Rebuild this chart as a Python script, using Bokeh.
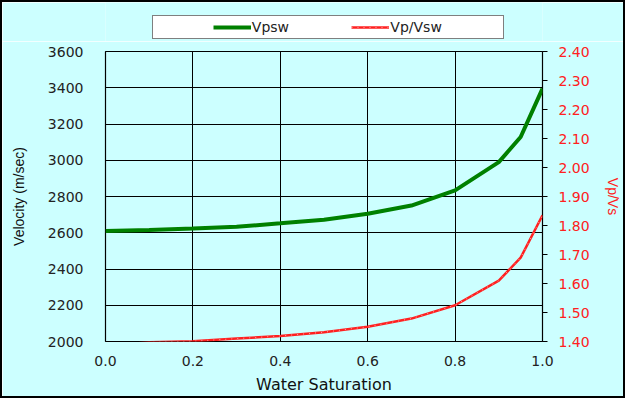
from bokeh.plotting import figure
from bokeh.layouts import column
from bokeh.models import (Range1d, LinearAxis, FixedTicker, Legend, LegendItem,
                          NumeralTickFormatter)
from bokeh.embed import file_html
from bokeh.resources import INLINE

sw = [0.0, 0.1, 0.2, 0.3, 0.4, 0.5, 0.6, 0.7, 0.8, 0.9, 0.95, 1.0]
vpsw = [2610, 2615, 2623, 2633, 2652, 2672, 2705, 2750, 2834, 2990, 3128, 3395]
vpvs = [1.385, 1.397, 1.401, 1.410, 1.419, 1.432, 1.451, 1.479, 1.525, 1.610, 1.689, 1.835]
x_ticks = [0.0, 0.2, 0.4, 0.6, 0.8, 1.0]
vel_ticks = [2000, 2200, 2400, 2600, 2800, 3000, 3200, 3400, 3600]
ratio_ticks = [1.4, 1.5, 1.6, 1.7, 1.8, 1.9, 2.0, 2.1, 2.2, 2.3, 2.4]
series_names = ["Vpsw", "Vp/Vsw"]

BG = "#ccffff"
FONT = "DejaVu Sans"
RED = "#ff2020"
GREEN = "#008000"
TXT = "#222222"

# ---------- main chart ----------
p = figure(output_backend="svg", toolbar_location=None,
           width=621, height=355,
           min_border_left=103, min_border_right=80, min_border_top=10, min_border_bottom=51,
           x_range=Range1d(0, 1), y_range=Range1d(2000, 3600))
p.background_fill_color = BG
p.border_fill_color = BG
p.outline_line_color = "black"
p.outline_line_width = 1.2

p.extra_y_ranges = {"ratio": Range1d(1.4, 2.4)}

p.xaxis.ticker = FixedTicker(ticks=x_ticks)
p.xaxis.formatter = NumeralTickFormatter(format="0.0")
p.yaxis.ticker = FixedTicker(ticks=vel_ticks)
for ax in (p.xaxis[0], p.yaxis[0]):
    ax.axis_line_color = None
    ax.major_tick_line_color = None
    ax.minor_tick_line_color = None
    ax.major_label_text_font = FONT
    ax.major_label_text_font_size = "14px"
    ax.major_label_text_color = TXT
    ax.axis_label_text_font_style = "normal"
    ax.axis_label_text_color = "#111111"
p.xaxis.axis_label = "Water Saturation"
p.xaxis.axis_label_text_font = FONT
p.xaxis.axis_label_text_font_size = "16px"
p.xaxis.major_label_standoff = 8
p.xaxis.axis_label_standoff = 6
p.yaxis.axis_label = "Velocity (m/sec)"
p.yaxis.axis_label_text_font = "Liberation Sans"
p.yaxis.axis_label_text_font_size = "14px"
p.yaxis.major_label_standoff = 16
p.yaxis.axis_label_standoff = 18

rax = LinearAxis(y_range_name="ratio", ticker=FixedTicker(ticks=ratio_ticks),
                 formatter=NumeralTickFormatter(format="0.00"),
                 axis_label="Vp/Vs")
rax.axis_line_color = None
rax.major_tick_line_color = "black"
rax.major_tick_out = 5
rax.major_tick_in = 0
rax.minor_tick_line_color = None
rax.major_label_standoff = 11
rax.major_label_text_font = FONT
rax.major_label_text_font_size = "14px"
rax.major_label_text_color = RED
rax.axis_label_standoff = 12
rax.axis_label_text_font = "Liberation Sans"
rax.axis_label_text_font_size = "14px"
rax.axis_label_text_font_style = "normal"
rax.axis_label_text_color = RED
p.add_layout(rax, "right")

p.xgrid.ticker = FixedTicker(ticks=x_ticks)
p.xgrid.grid_line_color = "black"
p.ygrid.grid_line_color = "black"
p.xgrid.grid_line_width = 1
p.ygrid.grid_line_width = 1

p.line(sw, vpsw, line_color=GREEN, line_width=4)
p.line(sw, vpvs, line_color=RED, line_width=2.5, y_range_name="ratio")
p.line(sw, vpvs, line_color="white", line_width=1, line_alpha=0.6,
       line_dash="1 5", y_range_name="ratio")

# ---------- legend strip above the chart (frame aligned with the chart's frame) ----------
top = figure(output_backend="svg", toolbar_location=None,
             width=621, height=39, min_border=0,
             x_range=Range1d(0, 1), y_range=Range1d(0, 1))
top.axis.visible = False
top.grid.visible = False
top.background_fill_color = BG
top.border_fill_color = BG
top.outline_line_color = None

# legend renderers: their data lie outside this strip's range, so only the legend shows them
lg = top.line(sw, vpsw, line_color=GREEN, line_width=4)
lr = top.line(sw, [v + 10 for v in vpvs], line_color=RED, line_width=2.5)
lrw = top.line(sw, [v + 10 for v in vpvs], line_color="white", line_width=1,
               line_alpha=0.6, line_dash="1 5")
pad = top.line(sw, vpsw, line_alpha=0)

NB = "\u00a0"
legend = Legend(items=[LegendItem(label=NB * 4, renderers=[pad]),
                       LegendItem(label=series_names[0] + NB * 14, renderers=[lg]),
                       LegendItem(label=series_names[1] + NB * 13, renderers=[lr, lrw])],
                orientation="horizontal", location=(47, 2),
                glyph_width=38, glyph_height=14, label_standoff=1, spacing=0,
                label_width=0, padding=3, margin=0,
                background_fill_color="white", background_fill_alpha=1.0,
                border_line_color="black", border_line_width=1.2,
                label_text_font=FONT, label_text_font_size="14px",
                label_text_color=TXT)
top.add_layout(legend, "center")

layout = column(top, p, spacing=0)
layout.styles = {"border": "2px solid black"}

open("out.html", "w").write(file_html(layout, INLINE))
